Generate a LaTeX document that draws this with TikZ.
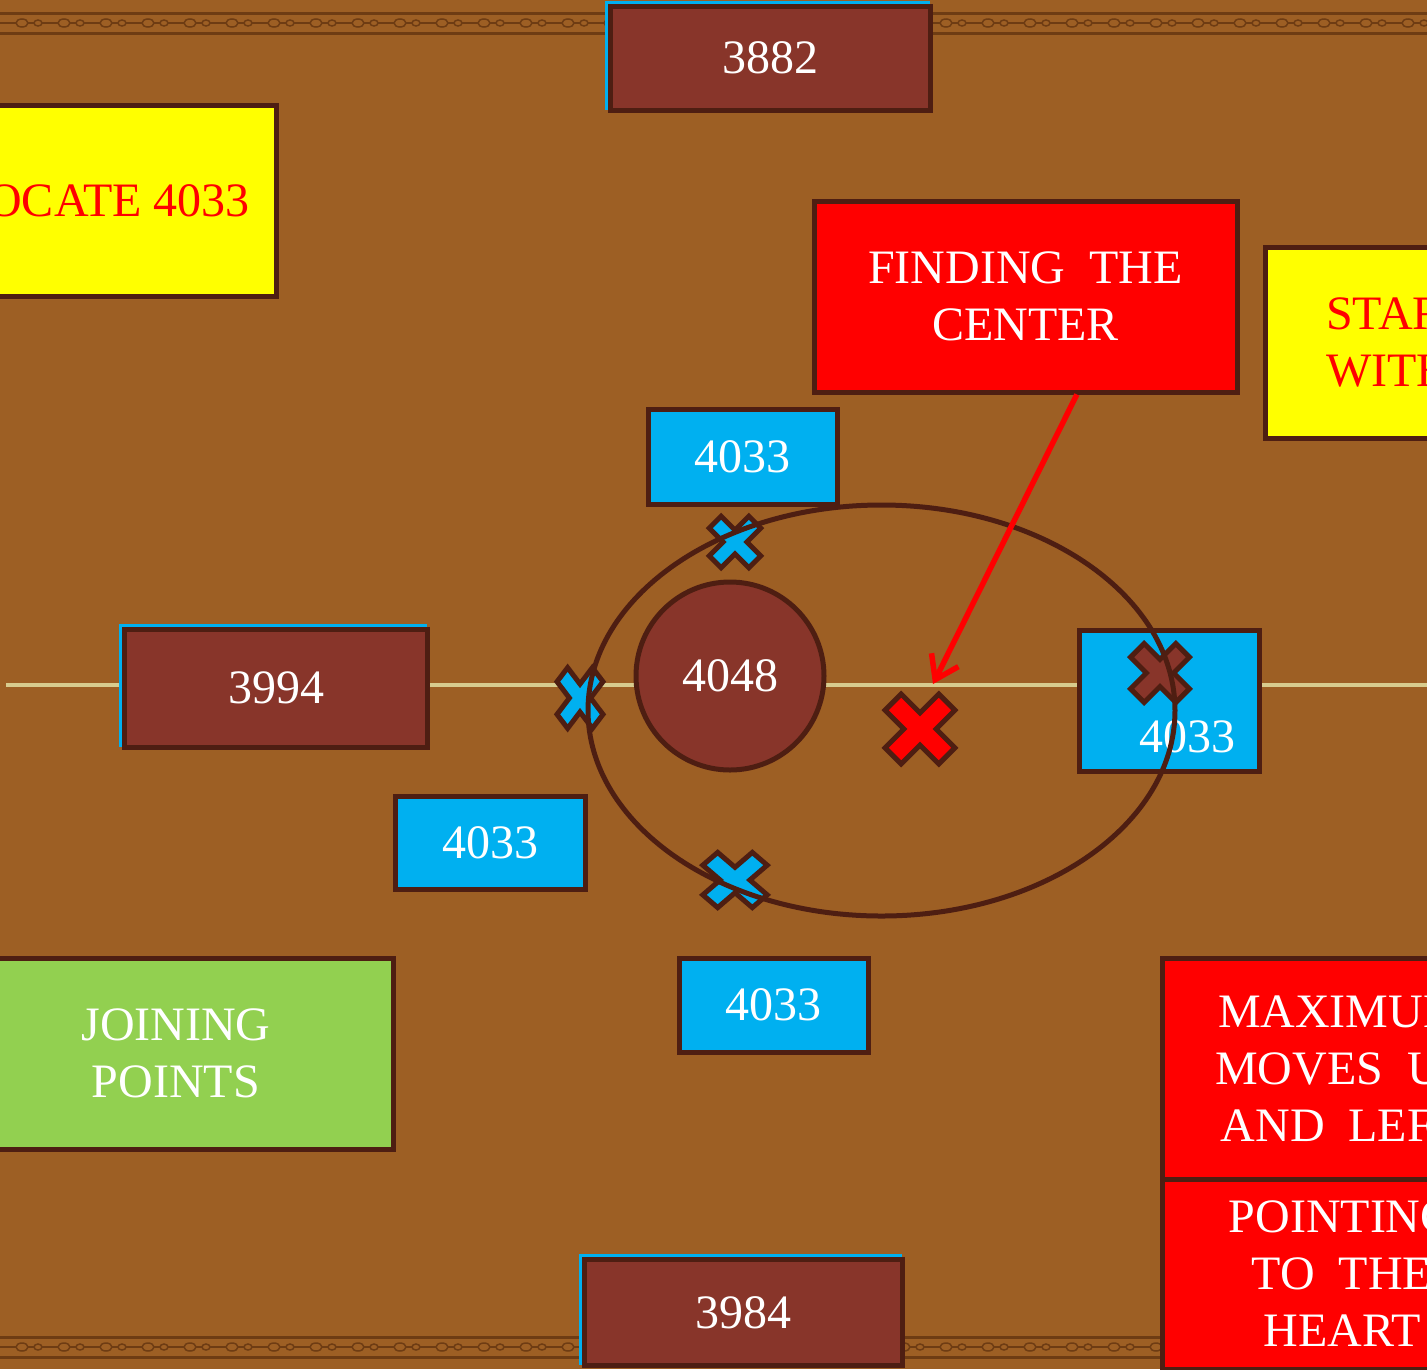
\documentclass[tikz,border=0pt]{standalone}
\usepackage{fontspec}
\setmainfont{Liberation Serif}
\usepackage{xcolor}
\usepackage{tikz}
\usetikzlibrary{arrows.meta,positioning,calc,shadows}
\definecolor{leather}{HTML}{9D5F24}
\definecolor{stitch}{HTML}{6E3C13}
\definecolor{rust}{HTML}{88352A}
\definecolor{ink}{HTML}{4E1E12}
\definecolor{sky}{HTML}{00B0F0}
\definecolor{lime}{HTML}{92D050}
\definecolor{alarm}{HTML}{FF0000}
\definecolor{sun}{HTML}{FFFF00}
\definecolor{thread}{HTML}{D8CC8E}
\newcommand{\bigtxt}{\fontsize{48}{57}\selectfont}
\tikzset{
  card/.style={rectangle, draw=ink, line width=5pt, align=center,
               font=\bigtxt, text=white, inner sep=0pt},
  numbox/.style={card, fill=rust, drop shadow={shadow xshift=-3pt, shadow yshift=3pt,
               fill=sky, draw=sky, line width=5pt, opacity=1}},
  hitbox/.style={card, fill=sky},
  notebox/.style={card, fill=alarm},
  askbox/.style={card, fill=sun, text=alarm},
  joinbox/.style={card, fill=lime},
  ring/.style={draw=ink, line width=5pt},
  pointer/.style={-{Straight Barb[length=22pt,width=30pt]}, draw=alarm, line width=5.5pt},
  pics/xmark/.style={code={
    \draw[draw=ink, line width=5pt, fill=#1, rotate=45]
      (-.3,1) -- (.3,1) -- (.3,.3) -- (1,.3) -- (1,-.3) -- (.3,-.3) -- (.3,-1)
      -- (-.3,-1) -- (-.3,-.3) -- (-1,-.3) -- (-1,.3) -- (-.3,.3) -- cycle;}}
}
\begin{document}
\begin{tikzpicture}[x=1pt, y=-1pt]
  \useasboundingbox (0,0) rectangle (1427,1369);
  \clip (0,0) rectangle (1427,1369);
  \fill[leather] (0,0) rectangle (1427,1369);
  % tooled border, top and bottom
  \foreach \y in {13,33,1337,1357} \draw[stitch, line width=3pt] (0,\y) -- (1427,\y);
  \foreach \y in {23,1347} {
    \draw[stitch, line width=1.5pt] (0,\y) -- (1427,\y);
    \foreach \x in {22,64,...,1427} {
      \draw[stitch, line width=1.5pt, fill=leather] (\x,\y) ellipse (6 and 4);
      \draw[stitch, line width=1.5pt, fill=leather] (\x+16,\y) ellipse (4 and 3);
    }
  }
  % guide line
  \coordinate (lineL) at (6,685);
  \coordinate (lineR) at (1427,685);
  \draw[thread, line width=3.5pt] (lineL) -- (lineR);

  \node[numbox, minimum width=320pt, minimum height=104pt] (n3882) at (770,58) {3882};
  \node[askbox, minimum width=344pt, minimum height=191pt] (locate) at (104,200.5) {LOCATE 4033};
  \node[notebox, minimum width=423pt, minimum height=191pt] (find) at (1025.5,296.5) {FINDING~ THE\\CENTER};
  \node[askbox, minimum width=423pt, minimum height=191pt, align=left, text width=302pt] (start) at (1477,342.5) {START\\WITH};
  \node[numbox, minimum width=303pt, minimum height=118pt] (n3994) at (276,688) {3994};
  \node[hitbox, minimum width=189pt, minimum height=95pt] (hitN) at (742.5,456.5) {4033};
  \node[hitbox, minimum width=190pt, minimum height=93pt] (hitW) at (490,842.5) {4033};
  \node[hitbox, minimum width=189pt, minimum height=94pt] (hitS) at (773.5,1005) {4033};
  \node[hitbox, minimum width=180pt, minimum height=141pt] (hitE) at (1169,700.5) {};
  \node[text=white, font=\bigtxt, inner sep=0pt, anchor=base] (hitElbl) at (1187,752) {4033};
  \node[circle, draw=ink, line width=5pt, fill=rust, minimum size=188pt, inner sep=0pt,
        text=white, font=\bigtxt] (core) at (730,676) {4048};
  \node[joinbox, minimum width=434pt, minimum height=191pt] (join) at (176,1053.5) {JOINING\\POINTS};
  \node[notebox, minimum width=360pt, minimum height=221pt] (maxm) at (1342,1068.5) {MAXIMUM\\MOVES~ UP\\AND~ LEFT};
  \node[notebox, minimum width=360pt, minimum height=190pt, below=-5pt of maxm] (heart) {POINTING\\TO~ THE\\HEART};
  \node[numbox, minimum width=318pt, minimum height=106pt] (n3984) at (743,1312.5) {3984};

  \pic[scale=28] at (735,542) {xmark=sky};
  \pic[xscale=25, yscale=33] at (580,698) {xmark=sky};
  \pic[xscale=35, yscale=30] at (735,880) {xmark=sky};
  \pic[scale=32] at (1160,673) {xmark=rust};
  \pic[scale=38] at (920,729) {xmark=alarm};

  \draw[ring] (881.5,710.5) ellipse (293.5 and 205.5);
  \coordinate (aim) at (933,684);
  \draw[pointer] ($(find.south west)!0.62!(find.south east)$) -- (aim);
\end{tikzpicture}
\end{document}
